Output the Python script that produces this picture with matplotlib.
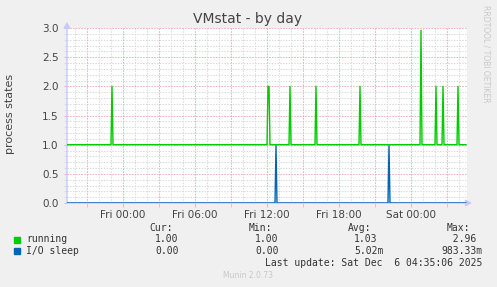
import matplotlib
matplotlib.use("Agg")
import matplotlib.pyplot as plt
import numpy as np

# time in hours counted from Thu 00:00, 5 minute samples
t_start = 19 + 20/60.0
t_end = 52 + 40/60.0
step = 5/60.0

running_base = 1.0
running_spike_hours = [23.08, 36.08, 36.17, 37.92, 40.08, 43.75, 48.83, 50.08, 50.67, 51.92]
running_spike_vals = [2.0, 2.0, 2.0, 2.0, 2.0, 2.0, 2.96, 2.0, 2.0, 2.0]

iosleep_base = 0.0
iosleep_spike_hours = [36.75, 46.17]
iosleep_spike_vals = [0.98, 0.98]

tick_hours = [24, 30, 36, 42, 48]
tick_labels = ["Fri 00:00", "Fri 06:00", "Fri 12:00", "Fri 18:00", "Sat 00:00"]

legend_names = ["running", "I/O sleep"]
legend_colors = ["#00cc00", "#0066b3"]
cur = ["1.00", "0.00"]
mins = ["1.00", "0.00"]
avgs = ["1.03", "5.02m"]
maxs = ["  2.96", "983.33m"]

n = int(round((t_end - t_start) / step))
hours = t_start + np.arange(n) * step

def make_series(base, spike_hours, spike_vals):
    vals = np.full(n, base)
    for h, v in zip(spike_hours, spike_vals):
        vals[int(round((h - t_start) / step))] = v
    return vals

running = make_series(running_base, running_spike_hours, running_spike_vals)
iosleep = make_series(iosleep_base, iosleep_spike_hours, iosleep_spike_vals)

W, H = 497, 287
fig = plt.figure(figsize=(W/100, H/100), dpi=100, facecolor="#f0f0f0")
ax = fig.add_axes([67/W, 84/H, 400/W, 175/H])
ax.set_facecolor("white")

# grid, minor grey and major red, dotted
dots = (0, (1.4, 1.4))
gl = 0.72
grey = "#dadada"
red = "#f4b4b4"
for h in np.arange(20, 53, 1):
    ax.axvline(h, color=grey, lw=gl, ls=dots, zorder=1)
for y in np.arange(0.1, 3.01, 0.1):
    ax.axhline(y, color=grey, lw=gl, ls=dots, zorder=1)
for h in np.arange(21, 53, 3):
    ax.axvline(h, color=red, lw=gl, ls=dots, zorder=1)
for y in np.arange(0.5, 3.01, 0.5):
    ax.axhline(y, color=red, lw=gl, ls=dots, zorder=1)

ax.plot(hours, running, color=legend_colors[0], lw=1, zorder=3)
ax.plot(hours, iosleep, color=legend_colors[1], lw=1, zorder=3)

ax.set_xlim(t_start, t_end)
ax.set_ylim(0, 3.0)
for s in ax.spines.values():
    s.set_visible(False)

ax.set_xticks(tick_hours)
ax.set_xticklabels(tick_labels)
ax.set_xticks(np.arange(21, 53, 3), minor=True)
ax.set_yticks(np.arange(0, 3.01, 0.5))
ax.set_yticklabels(["%.1f" % v for v in np.arange(0, 3.01, 0.5)])
ax.set_yticks(np.arange(0, 3.01, 0.1), minor=True)
ax.tick_params(axis="x", which="major", length=3, color=red, labelsize=7.5,
               labelcolor="#444444", pad=2)
ax.tick_params(axis="x", which="minor", length=3, color=red)
ax.tick_params(axis="y", which="major", length=2, color=red, labelsize=7.5,
               labelcolor="#444444", pad=4)
ax.tick_params(axis="y", which="minor", length=2, color=grey)

# axis lines with arrow heads
ax.annotate("", xy=(0, 1.035), xytext=(0, 0), xycoords="axes fraction",
            arrowprops=dict(arrowstyle="-|>,head_length=0.35,head_width=0.2",
                            color="#c8c8ff", lw=1, shrinkA=0, shrinkB=0), zorder=2)
ax.annotate("", xy=(1.012, 0), xytext=(0, 0), xycoords="axes fraction",
            arrowprops=dict(arrowstyle="-|>,head_length=0.35,head_width=0.2",
                            color="#c8c8ff", lw=1, shrinkA=0, shrinkB=0), zorder=2)

fig.text(248/W, 1 - 19/H, "VMstat - by day", ha="center", va="center",
         fontsize=10, color="#444444")
fig.text(10/W, 1 - 114/H, "process states", ha="center", va="center",
         rotation=90, fontsize=8, color="#444444")
fig.text(486/W, 1 - 54/H, "RRDTOOL / TOBI OETIKER", ha="center", va="center",
         rotation=270, fontsize=5.5, color="#c8c8c8")

mono = dict(family="DejaVu Sans Mono", fontsize=7, color="#333333", va="center")
fig.text(149/W, 1 - 228/H, "Cur:", **mono)
fig.text(249/W, 1 - 228/H, "Min:", **mono)
fig.text(348/W, 1 - 228/H, "Avg:", **mono)
fig.text(447/W, 1 - 228/H, "Max:", **mono)
rows_y = [239.5, 251]
for i in range(2):
    y = 1 - rows_y[i]/H
    fig.patches.append(plt.Rectangle((14/W, y - 3/H), 6/W, 6/H, transform=fig.transFigure,
                                     color=legend_colors[i]))
    fig.text(26/W, y, legend_names[i], **mono)
    fig.text(155/W, y, cur[i], **mono)
    fig.text(255/W, y, mins[i], **mono)
    fig.text(354/W, y, avgs[i], **mono)
    fig.text(441/W, y, maxs[i], **mono)
fig.text(482/W, 1 - 263.5/H, "Last update: Sat Dec  6 04:35:06 2025",
         ha="right", va="center", family="DejaVu Sans Mono", fontsize=7, color="#333333")
fig.text(248/W, 1 - 276/H, "Munin 2.0.73", ha="center", va="center",
         fontsize=5.5, color="#c8c8c8")

fig.savefig("out.png", dpi=100, facecolor=fig.get_facecolor())
